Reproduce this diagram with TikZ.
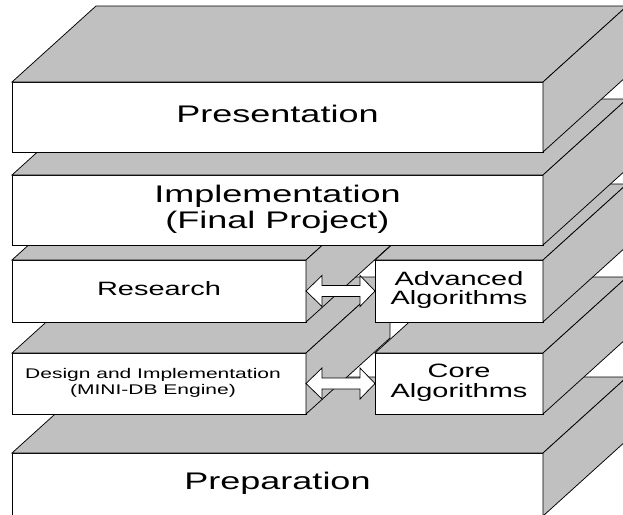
\documentclass[tikz,border=0pt]{standalone}
\usepackage{fontspec}
\setmainfont{Liberation Sans}
\usepackage{graphicx}

% horizontal stretch applied to every label
\newcommand\stretchx{1.5}
\newcommand\wtext[1]{\raisebox{-1.5pt}{\scalebox{\stretchx}[1]{\begin{tabular}{@{}c@{}}#1\end{tabular}}}}

\definecolor{slabgray}{RGB}{192,192,192}

\tikzset{
  edge/.style={draw=black, line width=0.75pt, line join=miter},
  shadeface/.style={edge, fill=slabgray},
  frontface/.style={edge, fill=white, rectangle, inner sep=0pt, outer sep=0pt, align=center},
  bigtext/.style={font=\fontsize{24}{26}\selectfont},
  midtext/.style={font=\fontsize{19.3}{19.5}\selectfont},
  smalltext/.style={font=\fontsize{14}{15.5}\selectfont},
  linkarrow/.style={edge, fill=white},
}

% top and right faces of a slab, hung on its front node
\newcommand\slabfaces[1]{%
  \draw[shadeface] (#1.north west) -- ([shift={(84,-76)}]#1.north west)
    -- ([shift={(84,-76)}]#1.north east) -- (#1.north east) -- cycle;
  \draw[shadeface] (#1.north east) -- ([shift={(84,-76)}]#1.north east)
    -- ([shift={(84,-76)}]#1.south east) -- (#1.south east) -- cycle;}

% double-headed block arrow between two side-by-side slabs
\newcommand\blockarrow[2]{%
  \draw[linkarrow] (#1.east) -- ([shift={(16,-15.5)}]#1.east) -- ([shift={(16,-5.5)}]#1.east)
    -- ([shift={(-15,-5.5)}]#2.west) -- ([shift={(-15,-15.5)}]#2.west) -- (#2.west)
    -- ([shift={(-15,15.5)}]#2.west) -- ([shift={(-15,5.5)}]#2.west)
    -- ([shift={(16,5.5)}]#1.east) -- ([shift={(16,15.5)}]#1.east) -- cycle;}

\begin{document}
\begin{tikzpicture}[x=1pt,y=-1pt]
\useasboundingbox (0,0) rectangle (623,514);
\fill[white] (0,0) rectangle (623,514);
\clip (0,0) rectangle (623,514);

% bottom slab, running off the lower edge
\node[frontface, bigtext, minimum width=531pt, minimum height=63pt] (prep) at (277.5,484.5) {\wtext{Preparation}};
\slabfaces{prep}

% second layer
\node[frontface, smalltext, minimum width=294pt, minimum height=61pt] (design) at (159,383.5) {\wtext{Design and Implementation\\(MINI-DB Engine)}\hspace*{12pt}};
\slabfaces{design}
\node[frontface, midtext, minimum width=168pt, minimum height=61pt] (core) at (459,383.5) {\wtext{Core\\Algorithms}};
\slabfaces{core}
\blockarrow{design}{core}

% third layer
\node[frontface, midtext, minimum width=294pt, minimum height=62pt] (research) at (159,291) {\wtext{Research}};
\slabfaces{research}
\node[frontface, midtext, minimum width=168pt, minimum height=62pt] (advanced) at (459,291) {\wtext{Advanced\\Algorithms}};
\slabfaces{advanced}
\blockarrow{research}{advanced}

% upper slabs
\node[frontface, bigtext, minimum width=531pt, minimum height=70pt] (impl) at (277.5,210) {\wtext{Implementation\\(Final Project)}};
\slabfaces{impl}
\node[frontface, bigtext, minimum width=531pt, minimum height=70pt] (present) at (277.5,117) {\wtext{Presentation}};
\slabfaces{present}
\end{tikzpicture}
\end{document}
